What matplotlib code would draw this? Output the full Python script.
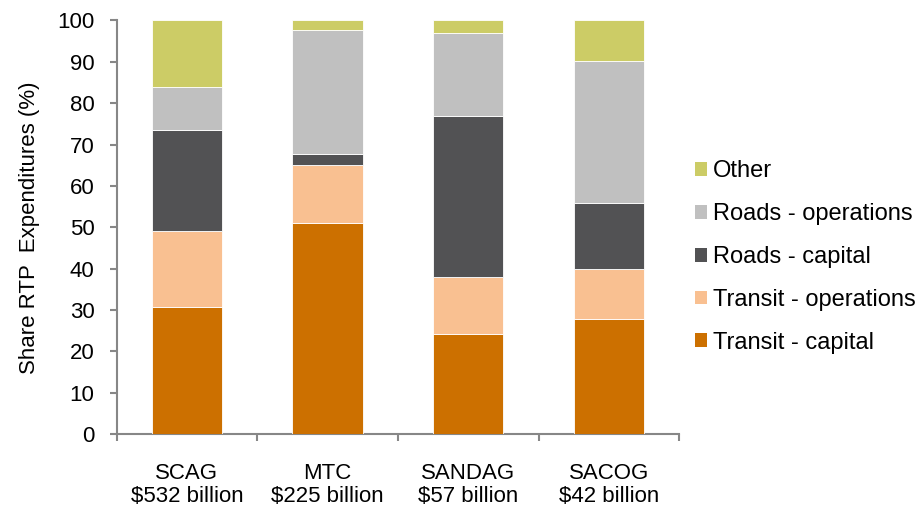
import numpy as np
import matplotlib
matplotlib.use('Agg')
import matplotlib.pyplot as plt
from matplotlib.patches import Patch

plt.rcParams['font.family'] = ['Liberation Sans', 'DejaVu Sans']

# ── data: share of RTP expenditures (%) ──────────────────────────────────────
regions = ['SCAG\n$532 billion', 'MTC\n$225 billion',
           'SANDAG\n$57 billion', 'SACOG\n$42 billion']
transit_capital = [30.8, 51.1, 24.1, 27.9]
transit_ops     = [18.4, 13.9, 13.9, 12.1]
roads_capital   = [24.4,  2.8, 39.0, 15.9]
roads_ops       = [10.2, 30.0, 19.9, 34.2]
other           = [16.2,  2.2,  3.1,  9.9]

series = [
    ('Transit - capital',    transit_capital, '#CC7000'),
    ('Transit - operations', transit_ops,     '#F9C091'),
    ('Roads - capital',      roads_capital,   '#525254'),
    ('Roads - operations',   roads_ops,       '#C0C0C0'),
    ('Other',                other,           '#CCCC66'),
]

AXIS_GREY = '#878787'

fig = plt.figure(figsize=(9.18, 5.12), dpi=100)
ax = fig.add_axes([0.127, 0.152, 0.613, 0.808])

x = np.arange(len(regions))
bottom = np.zeros(len(regions))
for label, vals, colour in series:
    ax.bar(x, vals, 0.5, bottom=bottom, color=colour, label=label,
           edgecolor='white', linewidth=0.6, zorder=3)
    bottom += np.array(vals)

ax.set_xlim(-0.5, len(regions) - 0.5)
ax.set_ylim(0, 100)
ax.set_yticks(np.arange(0, 101, 10))
ax.tick_params(axis='y', labelsize=16, direction='out', length=5,
               color=AXIS_GREY, width=1.5, pad=11)

# category labels centred, tick marks at the category boundaries
ax.set_xticks(x)
ax.set_xticklabels(regions, fontsize=16, linespacing=1.12)
ax.tick_params(axis='x', length=0, pad=21)
ax.set_xticks(np.arange(-0.5, len(regions)), minor=True)
ax.tick_params(axis='x', which='minor', direction='out', length=5,
               color=AXIS_GREY, width=1.5)

for side in ('top', 'right'):
    ax.spines[side].set_visible(False)
for side in ('left', 'bottom'):
    ax.spines[side].set_color(AXIS_GREY)
    ax.spines[side].set_linewidth(1.5)

ax.set_ylabel('Share RTP  Expenditures (%)', fontsize=16, labelpad=12)

handles = [Patch(facecolor=c, edgecolor='none', label=l) for l, _, c in series][::-1]
fig.legend(handles=handles, loc='center left', bbox_to_anchor=(0.757, 0.498),
           frameon=False, fontsize=17, handlelength=0.52, handleheight=0.52,
           handletextpad=0.25, labelspacing=0.88, borderaxespad=0, borderpad=0)

fig.savefig('out.png', dpi=100)
